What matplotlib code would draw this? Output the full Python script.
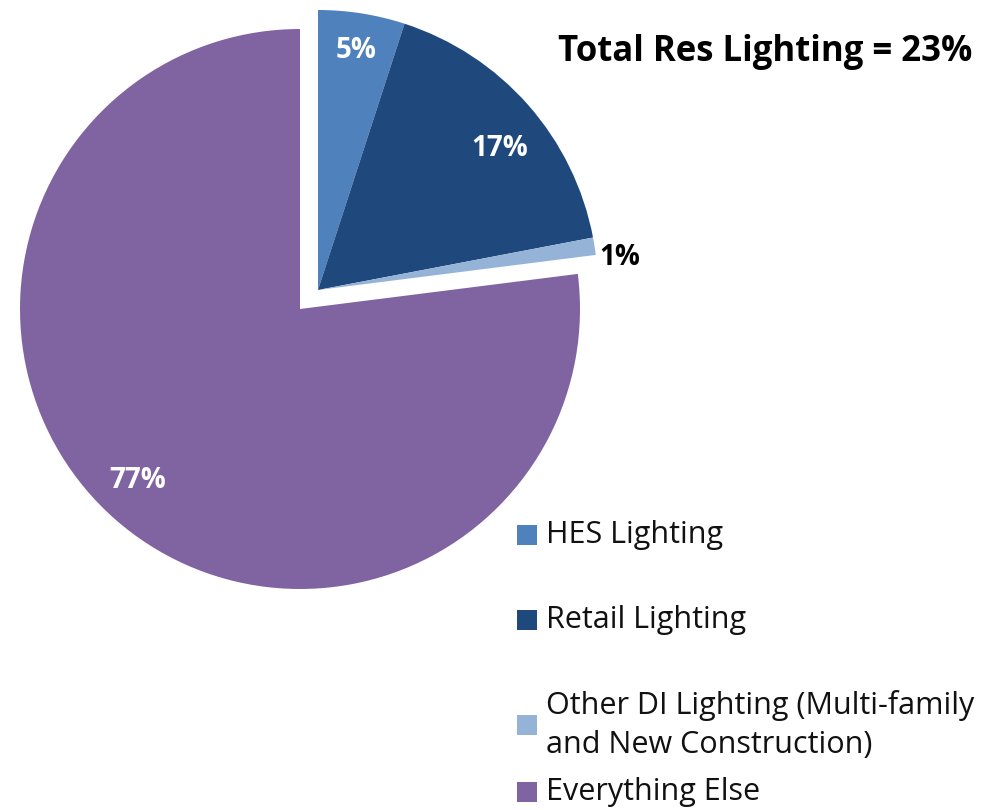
import matplotlib.pyplot as plt
import numpy as np
from matplotlib.patches import Rectangle

categories = ['HES Lighting', 'Retail Lighting',
              'Other DI Lighting (Multi-family\nand New Construction)',
              'Everything Else']
shares = [5, 17, 1, 77]
colors = ['#4F81BD', '#1F497D', '#95B3D7', '#8064A2']
lighting = [True, True, True, False]

plt.rcParams['font.family'] = ['Open Sans', 'DejaVu Sans']

W, H = 1003, 810
fig = plt.figure(figsize=(W / 100, H / 100), dpi=100)
ax = fig.add_axes([0, 0, 1, 1])

radius = 280
base = (300, H - 309)
shifted = (318, H - 290)

# lighting slices are pulled out together; the rest stays at the base centre
for pulled, ctr in [(False, base), (True, shifted)]:
    cols = [c if l == pulled else 'none' for c, l in zip(colors, lighting)]
    ax.pie(shares, colors=cols, startangle=90, counterclock=False,
           radius=radius, center=ctr, wedgeprops=dict(linewidth=0))

# percentage labels, with small nudges in pixels
dist = [0.875, 0.82, 1.085, 0.85]
nudge = [(0, -2), (9, -10), (2, -15), (-5, 7)]
txt_col = ['white', 'white', 'black', 'white']
cum = np.cumsum([0] + shares[:-1])
for i, v in enumerate(shares):
    mid = np.deg2rad(90 - 360 * (cum[i] + v / 2) / 100)
    cx, cy = shifted if lighting[i] else base
    ax.text(cx + dist[i] * radius * np.cos(mid) + nudge[i][0],
            cy + dist[i] * radius * np.sin(mid) + nudge[i][1],
            f'{v}%', color=txt_col[i], fontsize=20, fontweight='bold',
            ha='center', va='center')

total = sum(v for v, l in zip(shares, lighting) if l)
ax.text(765, H - 52, f'Total Res Lighting = {total}%', fontsize=25,
        fontweight='bold', ha='center', va='center')

# legend
leg_y = [535, 620, 725, 792]
for y, c, name in zip(leg_y, colors, categories):
    ax.add_patch(Rectangle((517, H - y - 10), 20, 20, color=c, lw=0))
    ax.text(546, H - y, name, fontsize=22, ha='left', va='center',
            linespacing=1.38, color='#111111')

ax.set_xlim(0, W)
ax.set_ylim(0, H)
ax.set_aspect('auto')
ax.axis('off')

fig.savefig('out.png', dpi=100)
